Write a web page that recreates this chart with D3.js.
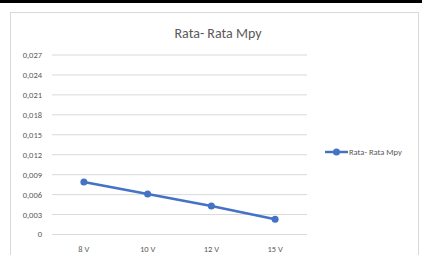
<!DOCTYPE html>
<html>
<head>
<meta charset="utf-8">
<script src="https://cdn.jsdelivr.net/npm/d3@7"></script>
<style>
  body { margin: 0; background: #fff; }
  text { font-family: Calibri, "Carlito", "Open Sans", "Liberation Sans", sans-serif; }
</style>
</head>
<body>
<svg id="chart" width="422" height="255"></svg>
<script>
var categories = ["8 V", "10 V", "12 V", "15 V"];
var values = [0.0079, 0.0061, 0.0043, 0.0023];
var yTicks = [0, 0.003, 0.006, 0.009, 0.012, 0.015, 0.018, 0.021, 0.024, 0.027];
var seriesName = "Rata- Rata Mpy";
var title = "Rata- Rata Mpy";

var margin = { top: 55, left: 52, right: 115, bottom: 20 },
    width = 307 - margin.left,
    height = 234.5 - margin.top;

var svg = d3.select("svg#chart");

// black band at top and chart border
svg.append("rect").attr("x", 0).attr("y", 0).attr("width", 422).attr("height", 3).attr("fill", "#000");
svg.append("rect")
    .attr("x", 10.5).attr("y", 12.5).attr("width", 408).attr("height", 250)
    .attr("fill", "#fff").attr("stroke", "#d9d9d9");

var x = d3.scaleBand().domain(categories).range([0, width]);
var y = d3.scaleLinear().domain([0, 0.027]).range([height, 0]);

var g = svg.append("g").attr("transform", "translate(" + margin.left + "," + margin.top + ")");

// gridlines
g.selectAll("line.grid")
    .data(yTicks)
    .enter().append("line")
    .attr("class", "grid")
    .attr("x1", 0).attr("x2", width)
    .attr("y1", d => y(d)).attr("y2", d => y(d))
    .attr("stroke", "#d9d9d9").attr("stroke-width", 1);

// y labels
g.selectAll("text.ylab")
    .data(yTicks)
    .enter().append("text")
    .attr("class", "ylab")
    .attr("x", -10).attr("y", d => y(d))
    .attr("dy", "0.35em")
    .attr("text-anchor", "end")
    .attr("font-size", 8.5)
    .attr("fill", "#595959")
    .text(d => d === 0 ? "0" : d3.format(".3f")(d).replace(".", ","));

// x labels
g.selectAll("text.xlab")
    .data(categories)
    .enter().append("text")
    .attr("class", "xlab")
    .attr("x", d => x(d) + x.bandwidth() / 2)
    .attr("y", height + 17)
    .attr("text-anchor", "middle")
    .attr("font-size", 8.5)
    .attr("fill", "#595959")
    .text(d => d);

var line = d3.line()
    .x((d, i) => x(categories[i]) + x.bandwidth() / 2)
    .y(d => y(d));

g.append("path")
    .datum(values)
    .attr("d", line)
    .attr("fill", "none")
    .attr("stroke", "#4472c4")
    .attr("stroke-width", 2.5);

g.selectAll("circle.pt")
    .data(values)
    .enter().append("circle")
    .attr("class", "pt")
    .attr("cx", (d, i) => x(categories[i]) + x.bandwidth() / 2)
    .attr("cy", d => y(d))
    .attr("r", 3.5)
    .attr("fill", "#4472c4");

// title
svg.append("text")
    .attr("x", 218).attr("y", 38)
    .attr("text-anchor", "middle")
    .attr("font-size", 14)
    .attr("fill", "#595959")
    .text(title);

// legend
var lg = svg.append("g").attr("transform", "translate(325,152)");
lg.append("line").attr("x1", 0).attr("x2", 23).attr("y1", 0).attr("y2", 0)
    .attr("stroke", "#4472c4").attr("stroke-width", 2.5);
lg.append("circle").attr("cx", 11.5).attr("cy", 0).attr("r", 3.5).attr("fill", "#4472c4");
lg.append("text").attr("x", 24).attr("y", 0).attr("dy", "0.35em")
    .attr("font-size", 8.5).attr("fill", "#595959").text(seriesName);
</script>
</body>
</html>
